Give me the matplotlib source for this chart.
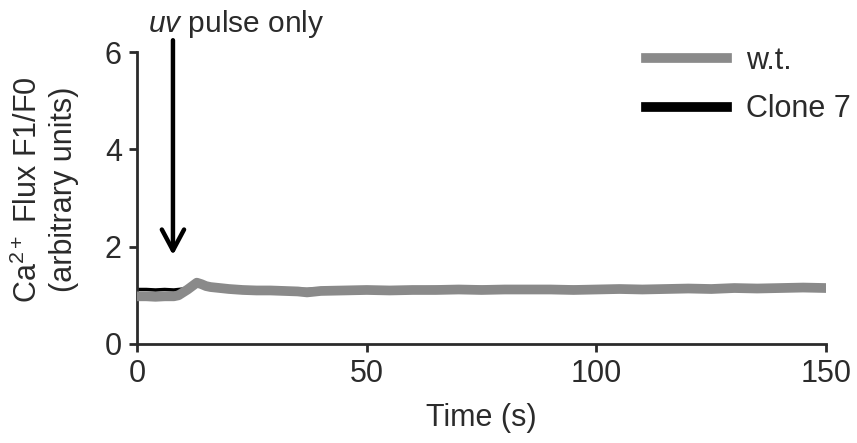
import matplotlib
matplotlib.use('Agg')
import matplotlib.pyplot as plt

plt.rcParams['font.family'] = ['Liberation Sans', 'DejaVu Sans']
plt.rcParams['mathtext.fontset'] = 'custom'
plt.rcParams['mathtext.rm'] = 'Liberation Sans'
plt.rcParams['mathtext.it'] = 'Liberation Sans:italic'

# time (s) and F1/F0 traces
time = [0, 2, 4, 6, 8, 9, 10, 11, 12, 13, 14, 15, 16, 18, 20, 23, 26, 29, 32, 35, 37,
        40, 45, 50, 55, 60, 65, 70, 75, 80, 85, 90, 95, 100, 105, 110, 115, 120,
        125, 130, 135, 140, 145, 150]
wt = [0.98, 0.98, 0.97, 0.98, 0.98, 1.00, 1.06, 1.12, 1.19, 1.26, 1.23, 1.19, 1.17,
      1.15, 1.13, 1.11, 1.10, 1.10, 1.09, 1.08, 1.06, 1.09, 1.10, 1.11, 1.10, 1.11,
      1.11, 1.12, 1.11, 1.12, 1.12, 1.12, 1.11, 1.12, 1.13, 1.12, 1.13, 1.14, 1.13,
      1.15, 1.14, 1.15, 1.16, 1.15]
clone7 = [1.12, 1.12, 1.11, 1.12, 1.11, 1.12, 1.13, 1.16, 1.19, 1.21, 1.20, 1.18, 1.17,
          1.16, 1.15, 1.14, 1.13, 1.14, 1.13, 1.12, 1.12, 1.13, 1.14, 1.15, 1.14, 1.15,
          1.16, 1.15, 1.16, 1.15, 1.16, 1.15, 1.16, 1.15, 1.16, 1.15, 1.16, 1.17, 1.16,
          1.17, 1.16, 1.18, 1.17, 1.17]

pulse_time = 7.8

fig = plt.figure(figsize=(8.57, 4.43), dpi=100)
ax = fig.add_axes([0.160, 0.2235, 0.804, 0.659])

dark = '#2b2b2b'
ax.plot(time, clone7, color='black', lw=2.5, zorder=2)
ax.plot(time, wt, color='#8a8a8a', lw=7, solid_capstyle='round', zorder=3)

# legend handles
ax.plot([], [], color='#8a8a8a', lw=7, label='w.t.')
ax.plot([], [], color='black', lw=7, label='Clone 7')
ax.legend(loc='upper right', bbox_to_anchor=(1.075, 1.115), frameon=False, fontsize=22,
          handlelength=2.65, handletextpad=0.6, labelspacing=0.6, labelcolor=dark)

ax.annotate('', xy=(pulse_time, 1.77), xytext=(pulse_time, 6.3),
            arrowprops=dict(arrowstyle='->, head_length=0.75, head_width=0.4',
                            lw=3.2, color='black', mutation_scale=20),
            annotation_clip=False)
ax.text(2.4, 6.41, r'$\it{uv}$ pulse only', fontsize=21.5, color=dark,
        va='baseline', ha='left', clip_on=False)

ax.set_xlim(0, 150)
ax.set_ylim(0, 6)
ax.set_xticks([0, 50, 100, 150])
ax.set_yticks([0, 2, 4, 6])
ax.set_xlabel('Time (s)', fontsize=22, color=dark, labelpad=10)
ax.set_ylabel('Ca$^{2+}$ Flux F1/F0\n(arbitrary units)', fontsize=22, color=dark,
              linespacing=1.2)
ax.yaxis.set_label_coords(-0.085, 0.53)
ax.tick_params(labelsize=22, colors=dark, width=2, length=6, pad=5)
for side in ['top', 'right']:
    ax.spines[side].set_visible(False)
for side in ['left', 'bottom']:
    ax.spines[side].set_linewidth(2)
    ax.spines[side].set_color(dark)

fig.savefig('out.png', dpi=100)
